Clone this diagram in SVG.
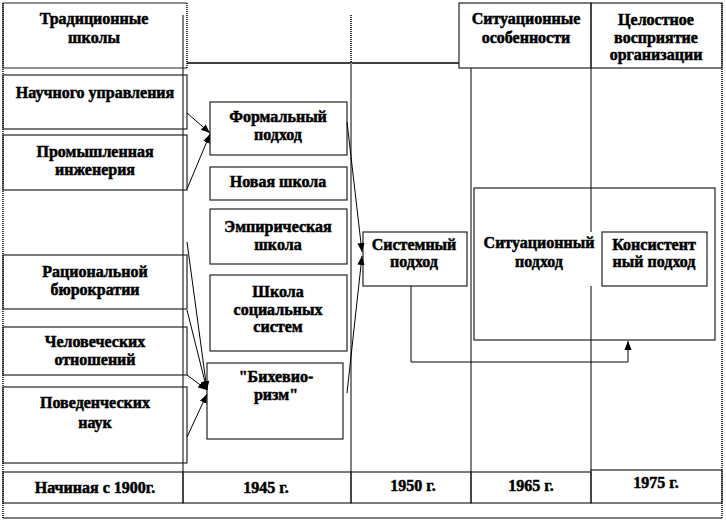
<svg xmlns="http://www.w3.org/2000/svg" width="726" height="520" viewBox="0 0 726 520" font-family="Liberation Serif, Times New Roman, serif">
<defs>
<marker id="ah" viewBox="0 0 10 10" refX="10" refY="5" markerWidth="9" markerHeight="9" markerUnits="userSpaceOnUse" orient="auto">
<path d="M0,1 L10,5 L0,9 z" fill="#000"/>
</marker>
<style>
.t{font-weight:700;font-size:16px;fill:#000;text-anchor:middle;stroke:#000;stroke-width:0.5}
.b{fill:none;stroke:#222;stroke-width:1.2}
.g{stroke:#808080;stroke-width:2;fill:none}
.d{stroke:#000;stroke-width:1.5;stroke-dasharray:1 1;fill:none}
.c{stroke:#000;stroke-width:1;fill:none}
</style>
</defs>
<rect width="726" height="520" fill="#fff"/>
<g id="frame">
<line class="d" x1="3" y1="3" x2="3" y2="518"/>
<line class="d" x1="722" y1="3" x2="722" y2="518"/>
<line x1="3" y1="518" x2="722" y2="518" stroke="#000" stroke-width="1.2"/>
<line x1="187" y1="63" x2="459" y2="63" stroke="#000" stroke-width="1.5"/>
<line class="d" x1="351" y1="15" x2="351" y2="63"/>
<line class="g" x1="183" y1="15" x2="183" y2="472"/>
<line class="g" x1="351" y1="63" x2="351" y2="472"/>
<line class="g" x1="471" y1="68" x2="471" y2="472"/>
<line class="g" x1="591" y1="68" x2="591" y2="232"/>
<line class="g" x1="591" y1="286" x2="591" y2="471"/>
</g>
<g id="h1"><path class="b" d="M187,3 H3 V68 H187"/><line class="d" x1="187" y1="3" x2="187" y2="68"/><text class="t" x="94" y="24">Традиционные</text><text class="t" x="94" y="43">школы</text></g>
<g id="h2"><rect class="b" x="459" y="3" width="132" height="65"/><text class="t" x="526" y="24">Ситуационные</text><text class="t" x="526" y="43">особенности</text></g>
<g id="h3"><rect class="b" x="591" y="3" width="131" height="65"/><text class="t" x="656" y="25">Целостное</text><text class="t" x="656" y="43">восприятие</text><text class="t" x="656" y="60">организации</text></g>
<g id="n1"><rect class="b" x="3" y="75" width="184" height="54"/><text class="t" x="95" y="98">Научного управления</text></g>
<g id="n2"><rect class="b" x="3" y="135" width="184" height="55"/><text class="t" x="95" y="157">Промышленная</text><text class="t" x="95" y="175">инженерия</text></g>
<g id="n3"><rect class="b" x="3" y="255" width="184" height="54"/><text class="t" x="95" y="277">Рациональной</text><text class="t" x="95" y="295">бюрократии</text></g>
<g id="n4"><rect class="b" x="3" y="327" width="184" height="48"/><text class="t" x="95" y="347">Человеческих</text><text class="t" x="95" y="365">отношений</text></g>
<g id="n5"><rect class="b" x="3" y="387" width="184" height="76"/><text class="t" x="95" y="408">Поведенческих</text><text class="t" x="95" y="428">наук</text></g>
<g id="n6"><rect class="b" x="210" y="102" width="137" height="53"/><text class="t" x="278" y="122">Формальный</text><text class="t" x="278" y="140">подход</text></g>
<g id="n7"><rect class="b" x="210" y="167" width="137" height="33"/><text class="t" x="278" y="187">Новая школа</text></g>
<g id="n8"><rect class="b" x="210" y="209" width="137" height="55"/><text class="t" x="278" y="232">Эмпирическая</text><text class="t" x="278" y="250">школа</text></g>
<g id="n9"><rect class="b" x="210" y="275" width="137" height="76"/><text class="t" x="278" y="297">Школа</text><text class="t" x="278" y="315">социальных</text><text class="t" x="278" y="332">систем</text></g>
<g id="n10"><rect class="b" x="207" y="363" width="136" height="76"/><text class="t" x="276" y="382">"Бихевио-</text><text class="t" x="276" y="400">ризм"</text></g>
<g id="n11"><rect class="b" x="363" y="232" width="104" height="54"/><text class="t" x="414" y="250">Системный</text><text class="t" x="414" y="267">подход</text></g>
<g id="n12"><rect class="b" x="474" y="188" width="241" height="152"/><text class="t" x="539" y="248">Ситуационный</text><text class="t" x="539" y="267">подход</text></g>
<g id="n13"><rect class="b" x="602" y="232" width="105" height="54"/><text class="t" x="654" y="250">Консистент</text><text class="t" x="654" y="267">ный подход</text></g>
<g id="timeline">
<rect class="b" x="3" y="472" width="180" height="31"/><text class="t" x="95" y="493">Начиная с 1900г.</text>
<rect class="b" x="183" y="472" width="168" height="31"/><text class="t" x="266" y="493">1945 г.</text>
<rect class="b" x="351" y="472" width="120" height="31"/><text class="t" x="413" y="491">1950 г.</text>
<rect class="b" x="471" y="472" width="120" height="31"/><text class="t" x="531" y="491">1965 г.</text>
<rect class="b" x="591" y="470" width="131" height="33"/><text class="t" x="656" y="488">1975 г.</text>
</g>
<g id="connectors">
<line class="c" x1="187" y1="113" x2="210" y2="133" marker-end="url(#ah)"/>
<line class="c" x1="187" y1="189" x2="210" y2="134" marker-end="url(#ah)"/>
<line class="c" x1="347" y1="122" x2="362" y2="252" marker-end="url(#ah)"/>
<line class="c" x1="347" y1="393" x2="362" y2="256" marker-end="url(#ah)"/>
<line class="c" x1="187" y1="242" x2="207" y2="390" marker-end="url(#ah)"/>
<line class="c" x1="187" y1="310" x2="207" y2="390" marker-end="url(#ah)"/>
<line class="c" x1="187" y1="375" x2="207" y2="390" marker-end="url(#ah)"/>
<line class="c" x1="187" y1="437" x2="207" y2="394" marker-end="url(#ah)"/>
<polyline class="c" points="411,286 411,362 628,362 628,341" stroke="#333" stroke-width="1.5" marker-end="url(#ah)"/>
</g>
</svg>
